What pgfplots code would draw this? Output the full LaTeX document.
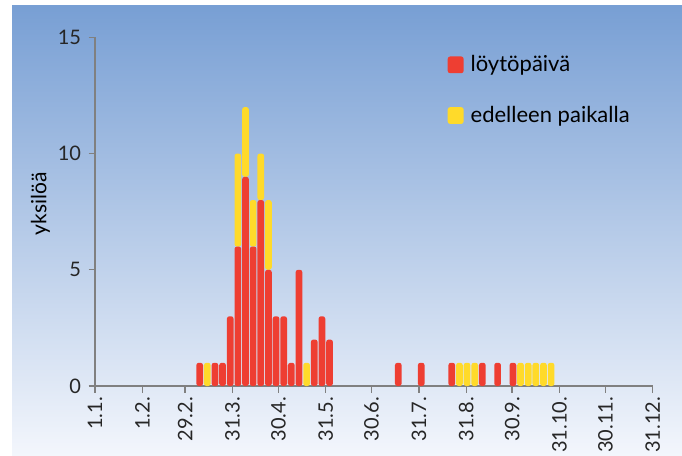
\documentclass[border=0pt]{standalone}
\usepackage{pgfplots}
\pgfplotsset{compat=1.18}
\usepackage{fontspec}
\setmainfont{Lato}

\definecolor{bgtop}{RGB}{120,159,212}
\definecolor{bgbot}{RGB}{243,246,252}
\definecolor{redbar}{RGB}{238,62,50}
\definecolor{yelbar}{RGB}{255,218,42}
\definecolor{axgray}{RGB}{128,128,128}

% x = day of year (1.1. = 0), bars every 5 days
\pgfplotstableread{
x     red  yellow
68.5  1    0
73.5  0    1
78.5  1    0
83.5  1    0
88.5  3    0
93.5  6    4
98.5  9    3
103.5 6    2
108.5 8    2
113.5 5    3
118.5 3    0
123.5 3    0
128.5 1    0
133.5 5    0
138.5 0    1
143.5 2    0
148.5 3    0
153.5 2    0
198.5 1    0
213.5 1    0
233.5 1    0
238.5 0    1
243.5 0    1
248.5 0    1
253.5 1    0
263.5 1    0
273.5 1    0
278.5 0    1
283.5 0    1
288.5 0    1
293.5 0    1
298.5 0    1
}\havainnot

\begin{document}
\begin{tikzpicture}[x=1pt,y=1pt]
\fill[white] (0,0) rectangle (682,455);
\shade[top color=bgtop, bottom color=bgbot] (12,0) rectangle (682,449);
\begin{axis}[
  at={(95pt,69pt)}, anchor=south west,
  scale only axis, width=557.7pt, height=348.7pt,
  xmin=0, xmax=365, ymin=0, ymax=15,
  axis x line*=bottom, axis y line*=left,
  axis line style={axgray, line width=1.6pt},
  tick style={axgray, line width=1.4pt},
  tick align=outside, major tick length=6.5pt,
  xtick={0,31,59,90,120,151,181,212,243,273,304,334,365},
  xticklabels={1.1.,1.2.,29.2.,31.3.,30.4.,31.5.,30.6.,31.7.,31.8.,30.9.,31.10.,30.11.,31.12.},
  ytick={0,5,10,15},
  /pgf/number format/assume math mode=true,
  tick label style={font=\fontsize{20}{24}\selectfont, text=black!85},
  xticklabel style={rotate=90, anchor=east, xshift=-1pt},
  yticklabel style={xshift=-4pt},
  ylabel={yksilöä},
  ylabel style={font=\fontsize{21}{25}\selectfont, at={(axis description cs:-0.098,0.522)}, anchor=center},
  ybar stacked, bar width=6.7pt,
  clip=false,
  legend style={draw=none, fill=none, at={(0.632,0.955)}, anchor=north west,
    font=\fontsize{22}{26}\selectfont, row sep=29pt, inner sep=0pt},
  legend cell align=left,
  legend image code/.code={\fill[#1] (0pt,-9.2pt) rectangle (16pt,7.6pt); \path (21pt,0pt);},
]
\addplot[fill=redbar, draw=none, rounded corners=2.5pt] table[x=x, y=red] {\havainnot};
\addlegendentry{löytöpäivä}
\addplot[fill=yelbar, draw=none, rounded corners=2.5pt] table[x=x, y=yellow] {\havainnot};
\addlegendentry{edelleen paikalla}
\end{axis}
\pgfresetboundingbox
\path[use as bounding box] (0,0) rectangle (682,455);
\end{tikzpicture}
\end{document}
